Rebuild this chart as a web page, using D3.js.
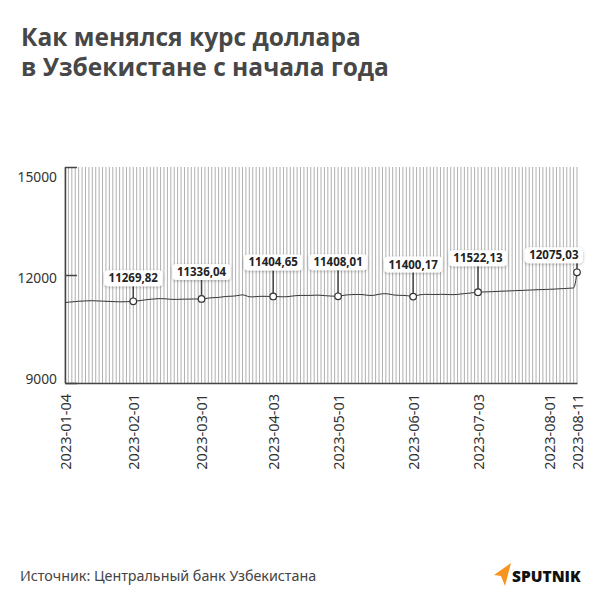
<!DOCTYPE html>
<html>
<head>
<meta charset="utf-8">
<script src="https://cdn.jsdelivr.net/npm/d3@7"></script>
<style>
  body { margin: 0; background: #fff; }
  svg { display: block; }
</style>
</head>
<body>
<div id="chart"></div>
<script>
// Working days of the Central Bank (weekends and public holidays skipped)
const dateStart = '2023-01-04';
const dateEnd = '2023-08-11';
const holidays = ['2023-03-08', '2023-03-21', '2023-04-21', '2023-05-09', '2023-06-28', '2023-06-29', '2023-06-30'];

// UZS per 1 USD, one value per working day
const rates = [
    11236, 11245, 11252, 11262, 11270, 11275, 11280, 11284, 11286, 11282,
    11278, 11274, 11270, 11266, 11262, 11258, 11255, 11256, 11258, 11263,
    11269.82, 11278, 11290, 11302, 11315, 11326, 11333, 11340, 11344, 11340,
    11333, 11326, 11322, 11324, 11327, 11329, 11330, 11332, 11333, 11334,
    11336.04, 11345, 11358, 11368, 11372, 11378, 11390, 11402, 11408, 11412,
    11420, 11435, 11448, 11425, 11395, 11392, 11400, 11406, 11408, 11406,
    11405, 11404.65, 11400, 11396, 11395, 11398, 11408, 11420, 11428, 11432,
    11433, 11432, 11434, 11438, 11440, 11436, 11428, 11420, 11415, 11411,
    11408.01, 11425, 11440, 11450, 11455, 11458, 11460, 11456, 11445, 11434,
    11432, 11445, 11465, 11478, 11480, 11470, 11450, 11440, 11435, 11434,
    11428, 11415, 11400.17, 11430, 11450, 11460, 11462, 11460, 11458, 11460,
    11463, 11462, 11458, 11455, 11455, 11462, 11472, 11482, 11492, 11502,
    11512, 11522.13, 11526, 11530, 11533, 11537, 11540, 11546, 11550, 11553,
    11558, 11560, 11566, 11570, 11572, 11578, 11582, 11584, 11590, 11593,
    11596, 11600, 11604, 11606, 11612, 11618, 11622, 11628, 11634, 11640,
    12075.03
];

const tickDates = ['2023-01-04', '2023-02-01', '2023-03-01', '2023-04-03', '2023-05-01', '2023-06-01', '2023-07-03', '2023-08-01', '2023-08-11'];
const yTicks = [9000, 12000, 15000];
const calloutDates = ['2023-02-01', '2023-03-01', '2023-04-03', '2023-05-01', '2023-06-01', '2023-07-03', '2023-08-11'];
// how far each callout box sits above its point (px)
const calloutLift = [23, 27, 34, 34, 32, 34, 17];

const parse = d3.utcParse('%Y-%m-%d');
const fmtDay = d3.utcFormat('%Y-%m-%d');
const dates = d3.utcDay.range(parse(dateStart), d3.utcDay.offset(parse(dateEnd), 1))
    .filter(d => d.getUTCDay() !== 0 && d.getUTCDay() !== 6)
    .map(fmtDay)
    .filter(s => !holidays.includes(s));

const n = Math.min(dates.length, rates.length);
const series = d3.range(n).map(i => ({ date: dates[i], value: rates[i] }));
const byDate = new Map(series.map(d => [d.date, d]));

const width = 600;
const height = 600;
const plot = { left: 65, right: 577, top: 167, bottom: 383 };

const svg = d3.select('#chart')
    .append('svg')
    .attr('width', width)
    .attr('height', height);

const defs = svg.append('defs');
const shadow = defs.append('filter').attr('id', 'shadow')
    .attr('x', '-30%').attr('y', '-50%').attr('width', '160%').attr('height', '200%');
shadow.append('feDropShadow')
    .attr('dx', 0).attr('dy', 1)
    .attr('stdDeviation', 1.4)
    .attr('flood-color', '#000')
    .attr('flood-opacity', 0.28);

// Title
const title = svg.append('text')
    .attr('font-family', '"Open Sans", sans-serif')
    .attr('font-weight', 700)
    .attr('font-size', 24.5)
    .attr('fill', '#474747');
title.append('tspan').attr('x', 21).attr('y', 46).text('Как менялся курс доллара');
title.append('tspan').attr('x', 21).attr('y', 76).text('в Узбекистане с начала года');

// Scales
const x = d3.scalePoint()
    .domain(series.map(d => d.date))
    .range([plot.left, plot.right]);

const y = d3.scaleLinear()
    .domain([9000, 15000])
    .range([plot.bottom, plot.top]);

// the tick labels sit on a slightly tighter spread than the ticks themselves
const yLabel = d3.scaleLinear()
    .domain([9000, 15000])
    .range([plot.bottom - 4, plot.top + 10]);

// Vertical grid, one line per working day
svg.append('g')
    .selectAll('line')
    .data(series)
    .enter()
    .append('line')
    .attr('x1', d => x(d.date))
    .attr('x2', d => x(d.date))
    .attr('y1', plot.top)
    .attr('y2', plot.bottom)
    .attr('stroke', '#b0b0b0')
    .attr('stroke-width', 1);

// Y axis
const yAxis = svg.append('g')
    .attr('transform', `translate(${plot.left},0)`)
    .call(d3.axisLeft(y).tickValues(yTicks).tickSize(-12).tickSizeOuter(0).tickPadding(8).tickFormat(d3.format('d')));
yAxis.select('.domain').attr('stroke', '#444').attr('stroke-width', 1.5);
yAxis.selectAll('.tick line').attr('stroke', '#444').attr('stroke-width', 1.5);
yAxis.selectAll('.tick text')
    .attr('font-family', '"Noto Sans", sans-serif')
    .attr('font-size', 13.8)
    .attr('fill', '#333')
    .attr('y', d => yLabel(d) - y(d));

// X axis
const xAxis = svg.append('g')
    .attr('transform', `translate(0,${plot.bottom})`)
    .call(d3.axisBottom(x).tickValues(tickDates).tickSize(0).tickSizeOuter(0));
xAxis.select('.domain').attr('stroke', '#444').attr('stroke-width', 1.5);
xAxis.selectAll('.tick text')
    .attr('font-family', '"Noto Sans", sans-serif')
    .attr('font-size', 14.5)
    .attr('fill', '#333')
    .attr('text-anchor', 'end')
    .attr('transform', 'rotate(-90)')
    .attr('x', -11)
    .attr('y', 0)
    .attr('dy', '0.35em');

// Rate line
const line = d3.line()
    .x(d => x(d.date))
    .y(d => y(d.value))
    .curve(d3.curveMonotoneX);

svg.append('path')
    .datum(series)
    .attr('d', line)
    .attr('fill', 'none')
    .attr('stroke', '#333')
    .attr('stroke-width', 1);

// Callouts
const fmtValue = v => d3.format('.2f')(v).replace('.', ',');
const callouts = calloutDates.map((d, i) => ({ point: byDate.get(d), lift: calloutLift[i] })).filter(c => c.point);

const callout = svg.append('g')
    .selectAll('g')
    .data(callouts)
    .enter()
    .append('g');

callout.append('line')
    .attr('x1', c => x(c.point.date))
    .attr('x2', c => x(c.point.date))
    .attr('y1', c => y(c.point.value))
    .attr('y2', c => y(c.point.value) - c.lift)
    .attr('stroke', '#444')
    .attr('stroke-width', 1.5);

callout.each(function(c) {
    const g = d3.select(this);
    const px = x(c.point.date);
    const cy = y(c.point.value) - c.lift;
    const rect = g.append('rect');
    const label = g.append('text')
        .attr('font-family', '"Open Sans", sans-serif')
        .attr('font-weight', 700)
        .attr('font-size', 11.5)
        .attr('fill', '#222')
        .attr('text-anchor', 'middle')
        .attr('dy', '0.35em')
        .text(fmtValue(c.point.value));
    const w = label.node().getComputedTextLength() + 9;
    const h = 16;
    let cx = px;
    if (cx + w / 2 > 583) cx = 583 - w / 2;
    label.attr('x', cx).attr('y', cy);
    rect.attr('x', cx - w / 2).attr('y', cy - h / 2)
        .attr('width', w).attr('height', h)
        .attr('rx', 4)
        .attr('fill', '#fff')
        .attr('filter', 'url(#shadow)');
});

callout.append('circle')
    .attr('cx', c => x(c.point.date))
    .attr('cy', c => y(c.point.value))
    .attr('r', 3.3)
    .attr('fill', '#fff')
    .attr('stroke', '#333')
    .attr('stroke-width', 1.2);

// Footer
svg.append('text')
    .attr('x', 20)
    .attr('y', 576)
    .attr('dy', '0.35em')
    .attr('font-family', '"Noto Sans", sans-serif')
    .attr('font-size', 14.3)
    .attr('fill', '#444')
    .text('Источник: Центральный банк Узбекистана');

svg.append('path')
    .attr('d', 'M511,563 L494,575 L501,576 L505,586 Z')
    .attr('fill', '#f7941d');

svg.append('text')
    .attr('x', 512)
    .attr('y', 576.5)
    .attr('dy', '0.35em')
    .attr('font-family', '"Open Sans", sans-serif')
    .attr('font-weight', 800)
    .attr('font-size', 15.5)
    .attr('fill', '#111')
    .text('SPUTNIK');
</script>
</body>
</html>
